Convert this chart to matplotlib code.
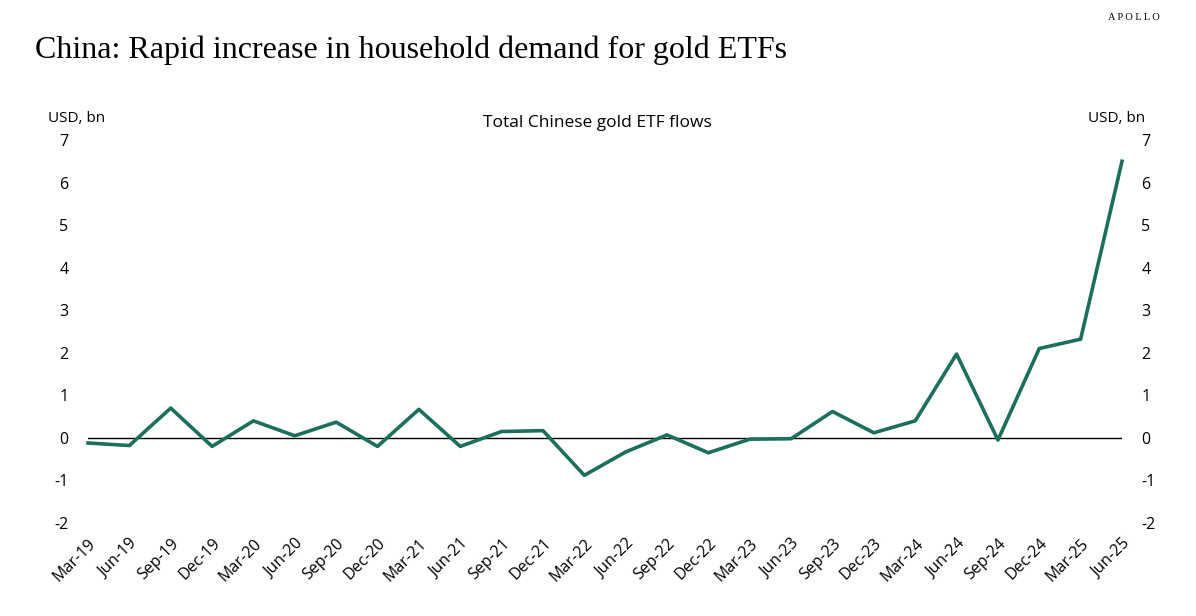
import matplotlib.pyplot as plt
import numpy as np

# Quarterly total Chinese gold ETF flows, USD bn
quarters = [
    "Mar-19", "Jun-19", "Sep-19", "Dec-19", "Mar-20", "Jun-20", "Sep-20", "Dec-20",
    "Mar-21", "Jun-21", "Sep-21", "Dec-21", "Mar-22", "Jun-22", "Sep-22", "Dec-22",
    "Mar-23", "Jun-23", "Sep-23", "Dec-23", "Mar-24", "Jun-24", "Sep-24", "Dec-24",
    "Mar-25", "Jun-25",
]
flows = [
    -0.12, -0.18, 0.70, -0.20, 0.40, 0.05, 0.37, -0.20,
    0.67, -0.20, 0.15, 0.17, -0.88, -0.33, 0.07, -0.35,
    -0.03, -0.02, 0.62, 0.12, 0.40, 1.97, -0.05, 2.10,
    2.32, 6.50,
]
yticks = [-2, -1, 0, 1, 2, 3, 4, 5, 6, 7]

sans = ["Open Sans", "DejaVu Sans"]
serif = ["Liberation Serif", "DejaVu Serif"]
plt.rcParams["font.family"] = sans
plt.rcParams["axes.unicode_minus"] = False

fig = plt.figure(figsize=(11.96, 6.16), dpi=100)
ax = fig.add_axes([88 / 1196, 1 - 523 / 616, (1122 - 88) / 1196, (523 - 140) / 616])

x = np.arange(len(quarters))
ax.plot(x, flows, color="#1b6f5c", linewidth=2.6, clip_on=False, zorder=3)
ax.axhline(0, color="black", linewidth=1.0, zorder=1)

ax.set_xlim(0, len(quarters) - 1)
ax.set_ylim(-2, 7)
ax.set_xticks(x)
ax.set_xticklabels(quarters, rotation=45, ha="right", rotation_mode="anchor", fontsize=11)
ax.set_yticks(yticks)
ax.tick_params(axis="both", length=0, labelsize=11.5)
ax.tick_params(axis="x", pad=9)
ax.tick_params(axis="y", pad=14)

ax2 = ax.twinx()
ax2.set_ylim(ax.get_ylim())
ax2.set_yticks(yticks)
ax2.tick_params(axis="y", length=0, labelsize=11.5, pad=14)

for a in (ax, ax2):
    for s in a.spines.values():
        s.set_visible(False)

fig.text(35 / 1196, 1 - 50 / 616, "China: Rapid increase in household demand for gold ETFs",
         family=serif, fontsize=23, va="center", ha="left")
fig.text(1160 / 1196, 1 - 18 / 616, "A P O L L O", family=serif, fontsize=7.5,
         va="center", ha="right")
fig.text(597 / 1196, 1 - 123 / 616, "Total Chinese gold ETF flows", fontsize=12.5,
         va="center", ha="center")
fig.text(48 / 1196, 1 - 118 / 616, "USD, bn", fontsize=11, va="center", ha="left")
fig.text(1145 / 1196, 1 - 118 / 616, "USD, bn", fontsize=11, va="center", ha="right")

fig.savefig("out.png", dpi=100)
